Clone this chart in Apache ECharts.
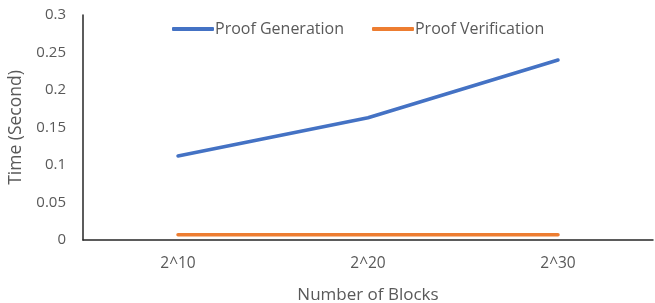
<!DOCTYPE html>
<html><head><meta charset="utf-8">
<script src="https://cdn.jsdelivr.net/npm/echarts@6/dist/echarts.min.js"></script>
<style>html,body{margin:0;padding:0;background:#fff}#c{width:655px;height:303px}</style>
</head><body><div id="c"></div>
<script>
var categories = ['2^10', '2^20', '2^30'];
var proofGeneration = [0.112, 0.163, 0.240];
var proofVerification = [0.007, 0.007, 0.007];
var yTicks = [0, 0.05, 0.1, 0.15, 0.2, 0.25, 0.3];

var font = '"Open Sans", sans-serif';
var txt = '#595959';
var chart = echarts.init(document.getElementById('c'), null, {renderer: 'canvas'});
chart.setOption({
  animation: false,
  textStyle: {fontFamily: font},
  grid: {left: 83, right: 2, top: 15, bottom: 63, containLabel: false, outerBoundsMode: 'none'},
  legend: {
    top: 16, left: 167,
    itemWidth: 42, itemHeight: 4, itemGap: 28,
    icon: 'roundRect',
    textStyle: {fontFamily: font, fontSize: 16, color: txt, padding: [0,0,0,-4]},
    data: ['Proof Generation', 'Proof Verification']
  },
  xAxis: {
    type: 'category', data: categories, boundaryGap: true,
    name: 'Number of Blocks', nameLocation: 'middle', nameGap: 47,
    nameTextStyle: {fontFamily: font, fontSize: 17, color: txt},
    axisLine: {lineStyle: {color: '#262626', width: 1.5}},
    axisTick: {show: false},
    axisLabel: {fontFamily: font, fontSize: 15.5, color: txt, margin: 16}
  },
  yAxis: {
    type: 'value', min: 0, max: 0.3, interval: 0.05,
    name: 'Time (Second)', nameLocation: 'middle', nameGap: 56, nameRotate: 90,
    nameTextStyle: {fontFamily: font, fontSize: 17.5, color: txt},
    axisLine: {show: true, lineStyle: {color: '#262626', width: 1.5}},
    splitLine: {show: false},
    axisTick: {show: false},
    axisLabel: {fontFamily: font, fontSize: 15, color: txt, margin: 17,
      formatter: function(v){ return String(+(+v).toFixed(2)); }}
  },
  series: [
    {name: 'Proof Generation', type: 'line', data: proofGeneration, showSymbol: false, symbol: 'none',
     lineStyle: {color: '#4472C4', width: 3.5, cap: 'round'}, itemStyle: {color: '#4472C4'}},
    {name: 'Proof Verification', type: 'line', data: proofVerification, showSymbol: false, symbol: 'none',
     lineStyle: {color: '#ED7D31', width: 3.5, cap: 'round'}, itemStyle: {color: '#ED7D31'}}
  ]
});
</script></body></html>
